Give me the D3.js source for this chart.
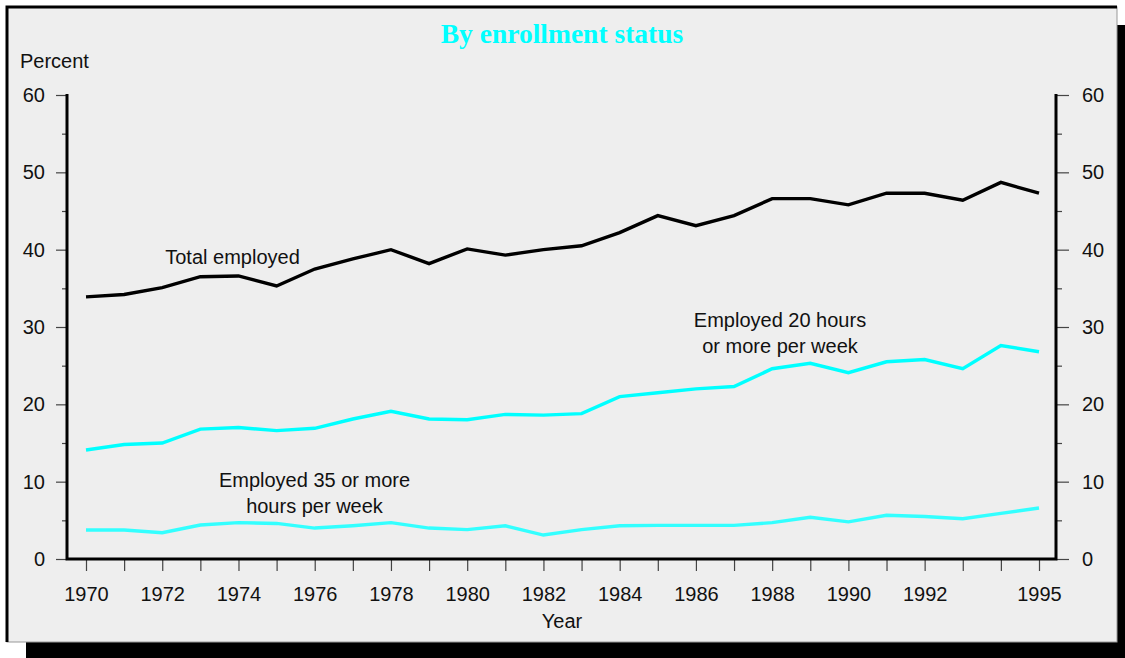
<!DOCTYPE html>
<html>
<head>
<meta charset="utf-8">
<script src="https://cdn.jsdelivr.net/npm/d3@7"></script>
<style>
  html, body { margin: 0; padding: 0; background: #fff; }
  svg text { font-family: "Liberation Sans", Arial, sans-serif; fill: #111; }
  .tick line { stroke: #444; stroke-width: 1.2; }
  .domain { display: none; }
</style>
</head>
<body>
<svg id="chart" width="1125" height="658"></svg>
<script>
// ---- data ----
var years = d3.range(1970, 1996);
var totalEmployed = [33.9, 34.2, 35.1, 36.5, 36.6, 35.3, 37.5, 38.8, 40.0, 38.2, 40.1, 39.3, 40.0,
    40.5, 42.2, 44.4, 43.1, 44.4, 46.6, 46.6, 45.8, 47.3, 47.3, 46.4, 48.7, 47.3];
var employed20 = [14.1, 14.8, 15.0, 16.8, 17.0, 16.6, 16.9, 18.1, 19.1, 18.1, 18.0, 18.7, 18.6,
    18.8, 21.0, 21.5, 22.0, 22.3, 24.6, 25.3, 24.1, 25.5, 25.8, 24.6, 27.6, 26.8];
var employed35 = [3.75, 3.75, 3.4, 4.4, 4.7, 4.6, 4.0, 4.3, 4.7, 4.0, 3.8, 4.3, 3.1,
    3.8, 4.3, 4.35, 4.35, 4.35, 4.7, 5.4, 4.8, 5.65, 5.5, 5.2, 5.9, 6.6];
var yearLabels = [1970, 1972, 1974, 1976, 1978, 1980, 1982, 1984, 1986, 1988, 1990, 1992, 1995];
var yMajor = [0, 10, 20, 30, 40, 50, 60];
var yMinor = [5, 15, 25, 35, 45, 55];

var svg = d3.select('#chart');

// frame with drop shadow
svg.append('rect').attr('x', 26).attr('y', 25).attr('width', 1099).attr('height', 633).attr('fill', '#000');
svg.append('rect').attr('x', 7).attr('y', 7).attr('width', 1110).attr('height', 635)
    .attr('fill', '#eeeeee').attr('stroke', '#999').attr('stroke-width', 1);
svg.append('path').attr('d', 'M7,642 L7,7 L1117,7').attr('fill', 'none')
    .attr('stroke', '#000').attr('stroke-width', 3);

var x = d3.scaleLinear().domain([1970, 1995]).range([86, 1039]);
var y = d3.scaleLinear().domain([0, 60]).range([559, 95]);
var left = 67, right = 1056;

// title
svg.append('text').attr('x', 562).attr('y', 43).attr('text-anchor', 'middle')
    .style('font-family', '"Liberation Serif", "Times New Roman", serif')
    .style('font-weight', 'bold').style('font-size', '27.5px').style('fill', '#00ffff')
    .text('By enrollment status');

svg.append('text').attr('x', 20).attr('y', 68).style('font-size', '20px').text('Percent');

// left axis
var gl = svg.append('g').attr('transform', 'translate(' + left + ',0)');
gl.call(d3.axisLeft(y).tickValues(yMajor).tickSize(11).tickPadding(11).tickSizeOuter(0));
gl.append('g').call(d3.axisLeft(y).tickValues(yMinor).tickSize(5).tickFormat('').tickSizeOuter(0));

// right axis
var gr = svg.append('g').attr('transform', 'translate(' + right + ',0)');
gr.call(d3.axisRight(y).tickValues(yMajor).tickSize(13).tickPadding(13).tickSizeOuter(0));
gr.append('g').call(d3.axisRight(y).tickValues(yMinor).tickSize(6).tickFormat('').tickSizeOuter(0));

// bottom axis
var gb = svg.append('g').attr('transform', 'translate(0,' + y(0) + ')');
gb.call(d3.axisBottom(x).tickValues(years).tickSize(12).tickFormat('').tickSizeOuter(0));
gb.append('g').call(d3.axisBottom(x).tickValues(yearLabels).tickSize(0).tickPadding(28)
    .tickFormat(d3.format('d')));

svg.selectAll('.tick text').style('font-size', '20px').style('fill', '#111');

svg.append('text').attr('x', 562).attr('y', 628).attr('text-anchor', 'middle')
    .style('font-size', '20px').text('Year');

// axis frame lines
svg.append('path')
    .attr('d', 'M' + left + ',' + (y(60) - 1) + ' L' + left + ',' + y(0) + ' L' + right + ',' + y(0) + ' L' + right + ',' + (y(60) - 1))
    .attr('fill', 'none').attr('stroke', '#000').attr('stroke-width', 3);

// series lines
var line = d3.line().x(function(d, i) { return x(years[i]); }).y(function(d) { return y(d); });
[[totalEmployed, '#000'], [employed20, '#00ffff'], [employed35, '#33ffff']].forEach(function(s) {
    svg.append('path').datum(s[0]).attr('d', line)
        .attr('fill', 'none').attr('stroke', s[1]).attr('stroke-width', 3.4)
        .attr('stroke-linejoin', 'miter');
});

// annotations
function label(lines, cx, by) {
    lines.forEach(function(t, i) {
        svg.append('text').attr('x', cx).attr('y', by + i * 26).attr('text-anchor', 'middle')
            .style('font-size', '20px').text(t);
    });
}
label(['Total employed'], 232.5, 264);
label(['Employed 20 hours', 'or more per week'], 780, 327);
label(['Employed 35 or more', 'hours per week'], 314.5, 487);
</script>
</body>
</html>
